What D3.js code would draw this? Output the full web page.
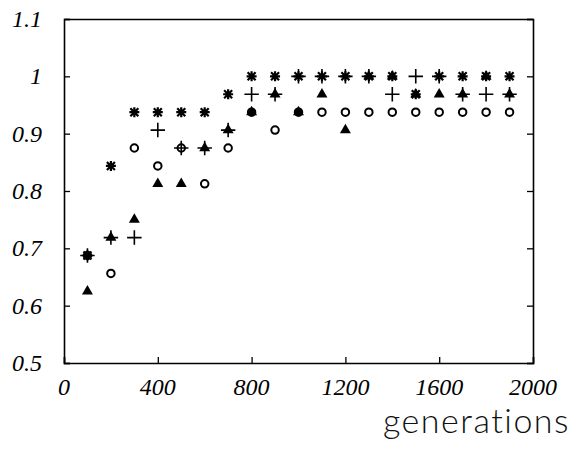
<!DOCTYPE html>
<html>
<head>
<meta charset="utf-8">
<script src="https://cdn.jsdelivr.net/npm/d3@7"></script>
<style>
  body { margin: 0; background: #fff; }
  svg { display: block; }
</style>
</head>
<body>
<svg width="582" height="452"></svg>
<script>
const generations = [100, 200, 300, 400, 500, 600, 700, 800, 900, 1000, 1100, 1200, 1300, 1400, 1500, 1600, 1700, 1800, 1900];
const starValues = [0.6875, 0.84375, 0.9375, 0.9375, 0.9375, 0.9375, 0.96875, 1, 1, 1, 1, 1, 1, 1, 0.96875, 1, 1, 1, 1];
const plusValues = [0.6875, 0.71875, 0.71875, 0.90625, 0.875, 0.875, 0.90625, 0.96875, 0.96875, 1, 1, 1, 1, 0.96875, 1, 1, 0.96875, 0.96875, 0.96875];
const triangleValues = [0.625, 0.71875, 0.75, 0.8125, 0.8125, 0.875, 0.90625, 0.9375, 0.96875, 0.9375, 0.96875, 0.90625, 1, 1, 0.96875, 0.96875, 0.96875, 1, 0.96875];
const circleValues = [0.6875, 0.65625, 0.875, 0.84375, 0.875, 0.8125, 0.875, 0.9375, 0.90625, 0.9375, 0.9375, 0.9375, 0.9375, 0.9375, 0.9375, 0.9375, 0.9375, 0.9375, 0.9375];
const xTicks = [0, 400, 800, 1200, 1600, 2000];
const yTicks = [0.5, 0.6, 0.7, 0.8, 0.9, 1, 1.1];

const svg = d3.select("svg");
const width = 582, height = 452;
const margin = { top: 19, right: 49, bottom: 89, left: 64 };
const innerWidth = width - margin.left - margin.right;
const innerHeight = height - margin.top - margin.bottom;

const xScale = d3.scaleLinear().domain([0, 2000]).range([margin.left, margin.left + innerWidth]);
const yScale = d3.scaleLinear().domain([0.5, 1.1]).range([margin.top + innerHeight, margin.top]);

// frame: axes with inward ticks, labels drawn separately
const leftAxis = svg.append("g").attr("transform", `translate(${margin.left}, 0)`)
	.call(d3.axisLeft(yScale).tickValues(yTicks).tickSize(-6).tickFormat(""));
const rightAxis = svg.append("g").attr("transform", `translate(${margin.left + innerWidth}, 0)`)
	.call(d3.axisRight(yScale).tickValues(yTicks).tickSize(-6).tickFormat(""));
const bottomAxis = svg.append("g").attr("transform", `translate(0, ${margin.top + innerHeight})`)
	.call(d3.axisBottom(xScale).tickValues(xTicks).tickSize(-6).tickFormat(""));
const topAxis = svg.append("g").attr("transform", `translate(0, ${margin.top})`)
	.call(d3.axisTop(xScale).tickValues([]).tickSizeOuter(0));

[leftAxis, rightAxis, bottomAxis, topAxis].forEach((ax) => {
	ax.select(".domain").attr("stroke", "#000").attr("stroke-width", 1.6);
	ax.selectAll(".tick line").attr("stroke", "#000").attr("stroke-width", 1.3);
	ax.selectAll(".tick text").remove();
});

const tickFont = (sel) => sel
	.style("font-family", "Liberation Serif")
	.style("font-style", "italic")
	.style("font-size", "24px")
	.attr("fill", "#000");

svg.selectAll(".ylab").data(yTicks).enter().append("text")
	.attr("class", "ylab")
	.attr("x", margin.left - 22)
	.attr("y", (d) => yScale(d))
	.attr("dy", "0.33em")
	.attr("text-anchor", "end")
	.call(tickFont)
	.text(d3.format(""));

svg.selectAll(".xlab").data(xTicks).enter().append("text")
	.attr("class", "xlab")
	.attr("x", (d) => xScale(d))
	.attr("y", margin.top + innerHeight + 32)
	.attr("text-anchor", "middle")
	.call(tickFont)
	.text(d3.format(""));

svg.append("text")
	.attr("x", 570)
	.attr("y", 433)
	.attr("text-anchor", "end")
	.style("font-family", "Lato")
	.style("font-weight", 300)
	.style("font-size", "34px")
	.style("letter-spacing", "1.5px")
	.style("font-variant-ligatures", "none")
	.attr("fill", "#111")
	.text("generations");

const pts = (vals) => generations.map((x, i) => ({ x, y: vals[i] }));
const place = (d) => `translate(${xScale(d.x)}, ${yScale(d.y)})`;

svg.selectAll(".circ").data(pts(circleValues)).enter().append("path")
	.attr("class", "circ")
	.attr("d", d3.symbol(d3.symbolCircle, 44))
	.attr("transform", place)
	.attr("fill", "none").attr("stroke", "#000").attr("stroke-width", 2);

svg.selectAll(".tri").data(pts(triangleValues)).enter().append("path")
	.attr("class", "tri")
	.attr("d", d3.symbol(d3.symbolTriangle, 52))
	.attr("transform", place)
	.attr("fill", "#000");

svg.selectAll(".plus").data(pts(plusValues)).enter().append("path")
	.attr("class", "plus")
	.attr("d", d3.symbol(d3.symbolPlus, 70))
	.attr("transform", place)
	.attr("fill", "none").attr("stroke", "#000").attr("stroke-width", 1.6);

const starPath = "M-5,0H5M0,-5V5M-4,-4L4,4M-4,4L4,-4";
svg.selectAll(".star").data(pts(starValues)).enter().append("path")
	.attr("class", "star")
	.attr("d", starPath)
	.attr("transform", place)
	.attr("fill", "none").attr("stroke", "#000").attr("stroke-width", 2.2);
</script>
</body>
</html>
